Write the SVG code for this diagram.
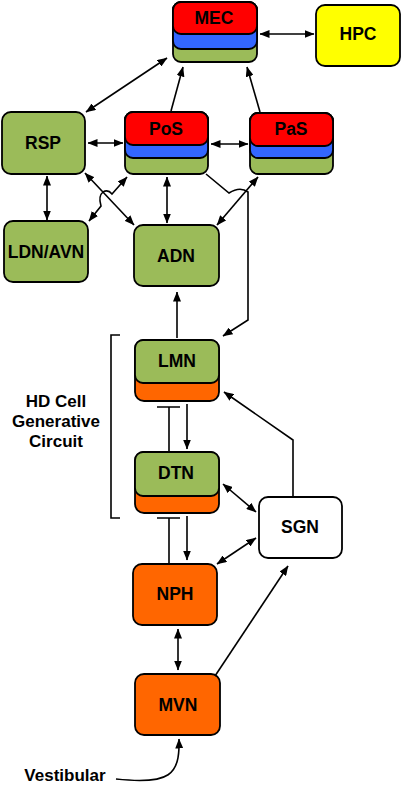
<svg xmlns="http://www.w3.org/2000/svg" width="402" height="786" viewBox="0 0 402 786">
<defs>
<marker id="ah" viewBox="0 0 10 8" refX="9.5" refY="4" markerWidth="10" markerHeight="8" markerUnits="userSpaceOnUse" orient="auto-start-reverse">
<path d="M0,0 L10,4 L0,8 z" fill="#000"/>
</marker>
<style>
.n{stroke:#000;stroke-width:1.8}
.g{fill:#9BBB59}.r{fill:#FF0000}.b{fill:#3366FF}.o{fill:#FF6600}.y{fill:#FFFF00}.w{fill:#FFFFFF}
.t{font-family:"Liberation Sans",Arial,sans-serif;font-weight:bold;font-size:17.5px;text-anchor:middle;fill:#000}
.l{font-size:17px}
.c{fill:none;stroke:#000;stroke-width:1.6}
.d{marker-start:url(#ah);marker-end:url(#ah)}
.e{marker-end:url(#ah)}
</style>
</defs>
<g id="MEC">
<rect class="n g" x="173" y="2" width="84" height="60" rx="8"/>
<rect class="n b" x="173" y="2" width="84" height="47" rx="8"/>
<rect class="n r" x="173" y="2" width="84" height="32" rx="8"/>
<text class="t" x="214" y="24">MEC</text>
</g>
<g id="HPC">
<rect class="n y" x="316" y="5" width="84" height="61" rx="9"/>
<text class="t" x="358" y="40">HPC</text>
</g>
<g id="RSP">
<rect class="n g" x="2" y="112" width="83" height="62" rx="9"/>
<text class="t" x="43" y="149">RSP</text>
</g>
<g id="PoS">
<rect class="n g" x="125" y="112" width="83" height="62" rx="8"/>
<rect class="n b" x="125" y="112" width="83" height="46" rx="8"/>
<rect class="n r" x="125" y="112" width="83" height="33" rx="8"/>
<text class="t" x="166" y="135">PoS</text>
</g>
<g id="PaS">
<rect class="n g" x="250" y="113" width="83" height="61" rx="8"/>
<rect class="n b" x="250" y="113" width="83" height="45" rx="8"/>
<rect class="n r" x="250" y="113" width="83" height="33" rx="8"/>
<text class="t" x="291" y="135">PaS</text>
</g>
<g id="LDN_AVN">
<rect class="n g" x="4" y="221" width="84" height="61" rx="9"/>
<text class="t" x="46" y="258">LDN/AVN</text>
</g>
<g id="ADN">
<rect class="n g" x="134" y="225" width="85" height="61" rx="9"/>
<text class="t" x="176" y="262">ADN</text>
</g>
<g id="LMN">
<rect class="n o" x="135" y="340" width="84" height="61" rx="9"/>
<rect class="n g" x="135" y="340" width="84" height="43" rx="8"/>
<text class="t" x="177" y="367">LMN</text>
</g>
<g id="DTN">
<rect class="n o" x="135" y="452" width="84" height="61" rx="9"/>
<rect class="n g" x="135" y="452" width="84" height="44" rx="8"/>
<text class="t" x="176" y="479">DTN</text>
</g>
<g id="SGN">
<rect class="n w" x="259" y="497" width="83" height="61" rx="9"/>
<text class="t" x="300" y="533">SGN</text>
</g>
<g id="NPH">
<rect class="n o" x="133" y="564" width="84" height="61" rx="9"/>
<text class="t" x="175" y="600">NPH</text>
</g>
<g id="MVN">
<rect class="n o" x="135" y="674" width="85" height="61" rx="9"/>
<text class="t" x="178" y="711">MVN</text>
</g>
<g id="label-circuit">
<text class="t l" x="56" y="407">HD Cell</text>
<text class="t l" x="56" y="427">Generative</text>
<text class="t l" x="56" y="447">Circuit</text>
</g>
<g id="label-vestibular">
<text class="t l" x="65" y="781">Vestibular</text>
</g>
<g id="connectors">
<path class="c d" d="M260,34 L314,34"/>
<path class="c d" d="M86,112 L167,58"/>
<path class="c e" d="M171,111 L183,67"/>
<path class="c e" d="M260,112 L247,67"/>
<path class="c d" d="M88,143 L123,143"/>
<path class="c d" d="M211,144 L248,144"/>
<path class="c d" d="M47,176 L47,220"/>
<path class="c d" d="M167,177 L167,223"/>
<path class="c d" d="M85,173 L134,225"/>
<path class="c d" d="M89,221 L101,206 Q98,196 103,192 Q108,189 112,194 L127,177"/>
<path class="c e" d="M206,174 L229,193 Q240,186 248,192 L248,320 L223,336"/>
<path class="c d" d="M258,177 L217,225"/>
<path class="c e" d="M177,338 L177,292"/>
<path class="c e" d="M187,404 L187,449"/>
<path class="c" d="M169,452 L169,407 M157,407 L180,407"/>
<path class="c e" d="M187,516 L187,560"/>
<path class="c" d="M169,564 L169,518 M157,518 L180,518"/>
<path class="c d" d="M223,484 L256,512"/>
<path class="c d" d="M256,538 L217,564"/>
<path class="c e" d="M293,497 L293,440 L224,392"/>
<path class="c d" d="M178,629 L178,670"/>
<path class="c e" d="M215,676 L288,566"/>
<path class="c e" d="M116,779 C170,785 180,775 179,739"/>
<path class="c" d="M120,335 L111,335 L111,518 L120,518"/>
</g>
</svg>
